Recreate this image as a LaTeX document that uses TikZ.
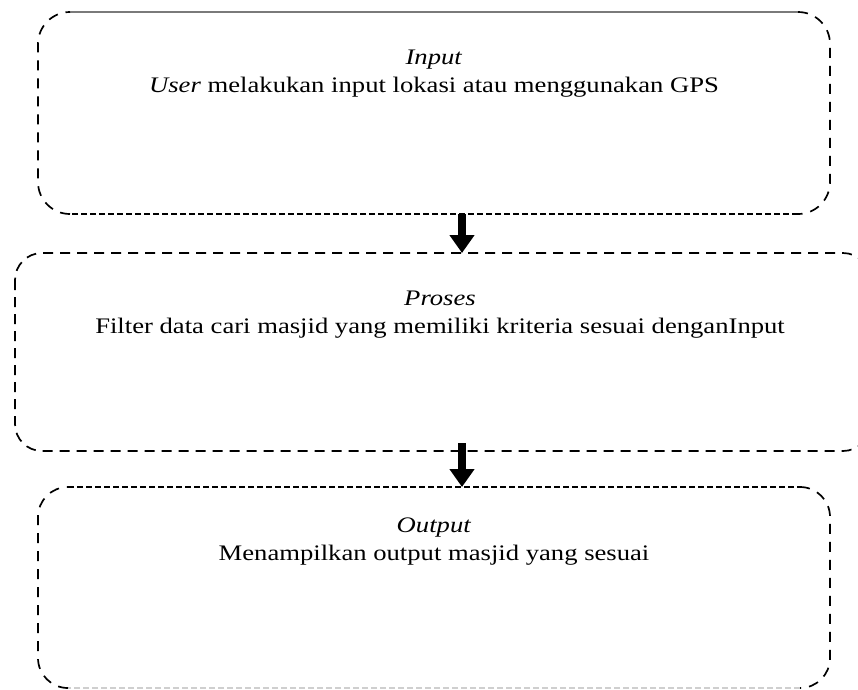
\documentclass[tikz,border=0pt]{standalone}
\usepackage{fontspec}
\setmainfont{Liberation Serif}[FakeStretch=1.2]
\usetikzlibrary{arrows.meta,calc}
\definecolor{cropgray}{HTML}{7A7A7A}
\definecolor{fadegray}{HTML}{CFCFCF}
\begin{document}
\begin{tikzpicture}[x=1pt,y=1pt,
  boxarea/.style={draw=none,rectangle,inner sep=0pt,outer sep=0pt},
  dsides/.style={line width=1.7pt,dash pattern=on 10pt off 8pt},
  dlong/.style={line width=1.7pt,dash pattern=on 10pt off 7pt},
  ddense/.style={line width=1.7pt,dash pattern=on 6pt off 3pt},
  graytop/.style={line width=1.5pt,draw=cropgray},
  fadeline/.style={line width=1.5pt,draw=fadegray,dash pattern=on 6pt off 3pt},
  bigarrow/.style={line width=8pt,-{Triangle[width=24pt,length=18pt]}},
  txt/.style={anchor=base,inner sep=0pt,font=\fontsize{22.2}{28}\selectfont}]
\useasboundingbox (0,0) rectangle (858,-689);
% box areas
\node[boxarea,minimum width=792pt,minimum height=202pt] (b1) at (434,-113) {};
\node[boxarea,minimum width=855pt,minimum height=198pt] (b2) at (442.5,-352) {};
\node[boxarea,minimum width=792pt,minimum height=201pt] (b3) at (434,-587.5) {};
\coordinate (ax) at (462,0);
% box 1 outline
\draw[graytop] ([xshift=32pt]b1.north west) -- ([xshift=-32pt]b1.north east);
\draw[dsides] ([xshift=-32pt]b1.north east) arc[start angle=90,end angle=0,radius=32pt]
  -- ([yshift=32pt]b1.south east) arc[start angle=0,end angle=-90,radius=32pt];
\draw[ddense] ([xshift=-32pt]b1.south east) -- ([xshift=32pt]b1.south west);
\draw[dsides] ([xshift=32pt]b1.south west) arc[start angle=-90,end angle=-180,radius=32pt]
  -- ([yshift=-32pt]b1.north west) arc[start angle=180,end angle=90,radius=32pt];
% box 2 outline
\draw[dlong,rounded corners=27pt] (b2.north west) rectangle (b2.south east);
% box 3 outline
\draw[ddense] ([xshift=30pt]b3.north west) -- ([xshift=-30pt]b3.north east);
\draw[dsides] ([xshift=-30pt]b3.north east) arc[start angle=90,end angle=0,radius=30pt]
  -- ([yshift=30pt]b3.south east) arc[start angle=0,end angle=-90,radius=30pt];
\draw[fadeline] ([xshift=-30pt]b3.south east) -- ([xshift=30pt]b3.south west);
\draw[dsides] ([xshift=30pt]b3.south west) arc[start angle=-90,end angle=-180,radius=30pt]
  -- ([yshift=-30pt]b3.north west) arc[start angle=180,end angle=90,radius=30pt];
% texts
\node[txt] (t1a) at (434,-64) {\textit{Input}};
\node[txt] (t1b) at (434,-92) {\textit{User} melakukan input lokasi atau menggunakan GPS};
\node[txt] (t2a) at (440,-305) {\textit{Proses}};
\node[txt] (t2b) at (440,-333) {Filter data cari masjid yang memiliki kriteria sesuai denganInput};
\node[txt] (t3a) at (434,-532) {\textit{Output}};
\node[txt] (t3b) at (434,-560) {Menampilkan output masjid yang sesuai};
% arrows
\draw[bigarrow] (b1.south -| ax) -- (b2.north -| ax);
\draw[bigarrow] ($(b2.south -| ax)+(0,8)$) -- (b3.north -| ax);
\end{tikzpicture}
\end{document}
